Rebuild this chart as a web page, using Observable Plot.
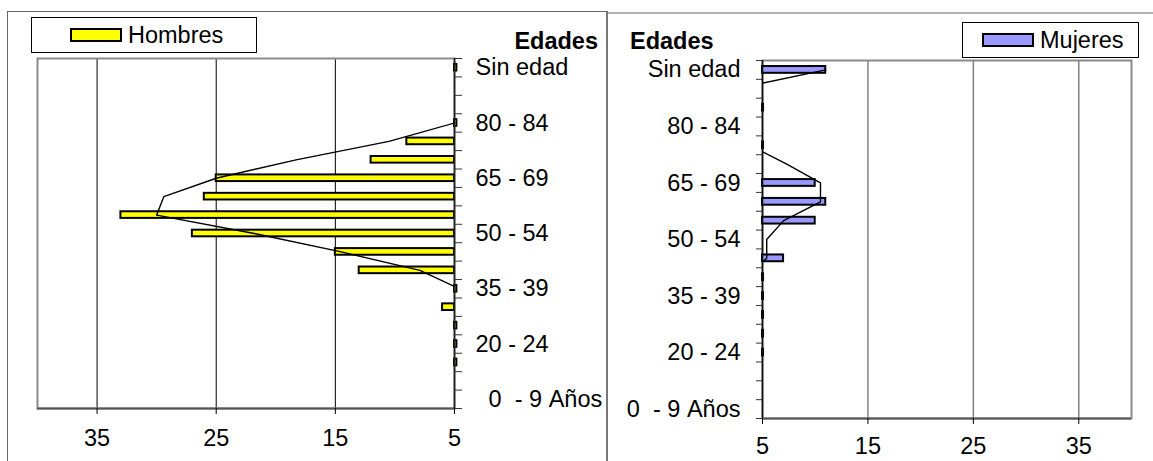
<!DOCTYPE html>
<html>
<head>
<meta charset="utf-8">
<script src="https://cdn.jsdelivr.net/npm/d3@7"></script>
<script src="https://cdn.jsdelivr.net/npm/@observablehq/plot@0.6"></script>
<style>
  html, body { margin: 0; padding: 0; background: #fff; }
  #wrap { position: relative; width: 1153px; height: 461px; overflow: hidden; background: #fff; }
  #wrap > svg { position: absolute; top: 0; }
</style>
</head>
<body>
<div id="wrap"></div>
<script>
// ---- data (top to bottom) ----
const categories = ["Sin edad", "90 y más", "85 - 89", "80 - 84", "75 - 79", "70 - 74", "65 - 69", "60 - 64",
  "55 - 59", "50 - 54", "45 - 49", "40 - 44", "35 - 39", "30 - 34", "25 - 29", "20 - 24", "15 - 19", "10 - 14", "  0  - 9 Años"];
const hombresBars = [4.8, null, null, 4.8, 9, 12, 25, 26, 33, 27, 15, 13, 4.8, 6, 4.8, 4.8, 4.8, null, null];
const hombresLine = [0, 0, 2, 5, 10.5, 18.3, 25, 29.4, 30, 21.8, 14.5, 7.9, 4.6, 1, 0, 0, 0, 0, 0];
const mujeresBars = [11, null, 5.1, null, 5.1, null, 10, 11, 10, null, 7, 5.1, 5.1, 5.1, 5.1, 5.1, null, null, null];
const mujeresLine = [11, 2.5, 0, 0, 3.8, 7.3, 10.5, 10.5, 7, 5.4, 5.4, 3.2, 0, 0, 0, 0, 0, 0, 0];
const xTicks = [5, 15, 25, 35];
const labelIdx = [0, 3, 6, 9, 12, 15, 18];
const seriesNames = ["Hombres", "Mujeres"];
const axisTitle = "Edades";

const FONT = "'Liberation Sans', Arial, Helvetica, sans-serif";
const FS = 23.5;

const rows = categories.map((cat, i) => ({
  i, cat, hb: hombresBars[i], hl: hombresLine[i], mb: mujeresBars[i], ml: mujeresLine[i]
}));
const boundaries = d3.range(-0.5, categories.length, 1);
const fmtCat = i => categories[i].replace(/ /g, "\u00a0");
const yDomain = [categories.length - 0.5, -0.5];
const style = { fontFamily: FONT, fontSize: FS + "px", color: "#000", background: "transparent", overflow: "visible" };

const left = Plot.plot({
  width: 607, height: 461,
  marginLeft: 37, marginRight: 153, marginTop: 58, marginBottom: 53,
  x: { domain: [40, 5], label: null },
  y: { domain: yDomain, label: null },
  style,
  marks: [
    Plot.gridX([15, 25, 35], { stroke: "#000", strokeOpacity: 1, strokeWidth: 1 }),
    Plot.frame({ stroke: "#8a8a8a", strokeWidth: 2 }),
    Plot.rectX(rows.filter(d => d.hb != null), {
      x1: 5, x2: "hb", y1: d => d.i - 0.18, y2: d => d.i + 0.18,
      fill: "#ffff00", stroke: "#000", strokeWidth: 2
    }),
    Plot.line(rows, { x: "hl", y: "i", stroke: "#000", strokeWidth: 1.4, clip: true }),
    Plot.ruleX([5], { stroke: "#222", strokeWidth: 1.6 }),
    Plot.ruleY([categories.length - 0.5], { stroke: "#555", strokeWidth: 2 }),
    Plot.axisX({ ticks: xTicks, tickSize: 6, tickPadding: 15, tickFormat: d => String(d), label: null }),
    Plot.axisY({ anchor: "right", ticks: boundaries, tickSize: 7, tickFormat: () => "", label: null, stroke: "#333" }),
    Plot.axisY({ anchor: "right", ticks: labelIdx, tickSize: 0, tickPadding: 21, tickFormat: fmtCat, label: null })
  ]
});
left.style.left = "0px";

const right = Plot.plot({
  width: 546, height: 461,
  marginLeft: 155, marginRight: 22, marginTop: 60, marginBottom: 43,
  x: { domain: [5, 40], label: null },
  y: { domain: yDomain, label: null },
  style,
  marks: [
    Plot.gridX([15, 25, 35], { stroke: "#808080", strokeOpacity: 1, strokeWidth: 1.5 }),
    Plot.frame({ stroke: "#8a8a8a", strokeWidth: 2 }),
    Plot.rectX(rows.filter(d => d.mb != null), {
      x1: 5, x2: "mb", y1: d => d.i - 0.18, y2: d => d.i + 0.18,
      fill: "#9999ff", stroke: "#000", strokeWidth: 2
    }),
    Plot.line(rows, { x: "ml", y: "i", stroke: "#000", strokeWidth: 1.4, clip: true }),
    Plot.ruleX([5], { stroke: "#111", strokeWidth: 1.6 }),
    Plot.ruleY([categories.length - 0.5], { stroke: "#555", strokeWidth: 2 }),
    Plot.axisX({ ticks: xTicks, tickSize: 6, tickPadding: 13, tickFormat: d => String(d), label: null }),
    Plot.axisY({ anchor: "left", ticks: boundaries, tickSize: 6, tickFormat: () => "", label: null, stroke: "#333" }),
    Plot.axisY({ anchor: "left", ticks: labelIdx, tickSize: 0, tickPadding: 22, tickFormat: fmtCat, label: null })
  ]
});
right.style.left = "607px";

const wrap = document.getElementById("wrap");
wrap.appendChild(left);
wrap.appendChild(right);

// ---- decorations: frames, legends, axis titles ----
const ov = d3.select(wrap).append("svg")
  .attr("width", 1153).attr("height", 461)
  .style("left", "0px").style("pointer-events", "none")
  .style("font-family", FONT).style("font-size", FS + "px");

ov.append("line").attr("x1", 7.5).attr("x2", 7.5).attr("y1", 11).attr("y2", 461).attr("stroke", "#666");
ov.append("line").attr("x1", 7).attr("x2", 607).attr("y1", 11.5).attr("y2", 11.5).attr("stroke", "#666");
ov.append("line").attr("x1", 607).attr("x2", 607).attr("y1", 11).attr("y2", 461).attr("stroke", "#777").attr("stroke-width", 2);
ov.append("line").attr("x1", 607).attr("x2", 1153).attr("y1", 13).attr("y2", 13).attr("stroke", "#666");

function legend(x, y, w, h, sx, sy, color, label) {
  const g = ov.append("g");
  g.append("rect").attr("x", x + 0.5).attr("y", y + 0.5).attr("width", w).attr("height", h)
    .attr("fill", "#fff").attr("stroke", "#000");
  g.append("rect").attr("x", sx).attr("y", sy).attr("width", 50).attr("height", 12)
    .attr("fill", color).attr("stroke", "#000").attr("stroke-width", 2);
  g.append("text").attr("x", sx + 57).attr("y", sy + 14).text(label);
}
legend(31, 17, 225, 35, 71, 29, "#ffff00", seriesNames[0]);
legend(962, 22, 176, 35, 983, 34, "#9999ff", seriesNames[1]);

ov.append("text").attr("x", 598).attr("y", 49).attr("text-anchor", "end")
  .attr("font-weight", "bold").text(axisTitle);
ov.append("text").attr("x", 630).attr("y", 49).attr("text-anchor", "start")
  .attr("font-weight", "bold").text(axisTitle);
</script>
</body>
</html>
